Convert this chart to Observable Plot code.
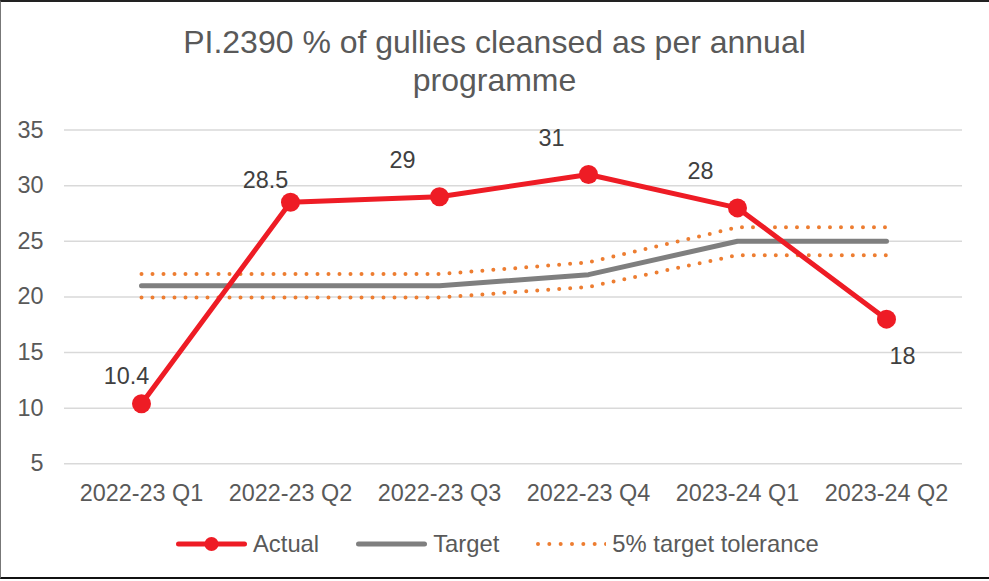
<!DOCTYPE html>
<html>
<head>
<meta charset="utf-8">
<script src="https://cdn.jsdelivr.net/npm/d3@7"></script>
<script src="https://cdn.jsdelivr.net/npm/@observablehq/plot@0.6"></script>
<style>
  html, body { margin: 0; padding: 0; background: #fff; }
  #wrap { position: relative; width: 989px; height: 581px; overflow: hidden; background: #fff;
          font-family: "Liberation Sans", Arial, sans-serif; }
  #frame { position: absolute; left: 0; top: 0; width: 989px; height: 579px; box-sizing: border-box;
           border-top: 2px solid #222; border-left: 1px solid #777; border-bottom: 2px solid #111;
           pointer-events: none; }
  #title { position: absolute; left: 0; top: 23px; width: 989px; text-align: center;
           font-size: 32px; line-height: 38px; color: #595959; }
  #chart { position: absolute; left: 0; top: 100px; }
  #legend { position: absolute; left: 176px; top: 528px; height: 32px; display: flex; align-items: center;
            font-size: 23.8px; color: #595959; }
  #legend .item { display: flex; align-items: center; }
  #legend svg { display: block; }
</style>
</head>
<body>
<div id="wrap">
  <div id="title">PI.2390 % of gullies cleansed as per annual<br>programme</div>
  <div id="chart"></div>
  <div id="legend"></div>
  <div id="frame"></div>
</div>
<script>
const categories = ["2022-23 Q1", "2022-23 Q2", "2022-23 Q3", "2022-23 Q4", "2023-24 Q1", "2023-24 Q2"];
const actual = [10.4, 28.5, 29, 31, 28, 18];
const target = [21, 21, 21, 22, 25, 25];
const toleranceUpper = [22.05, 22.05, 22.05, 23.1, 26.25, 26.25];
const toleranceLower = [19.95, 19.95, 19.95, 20.9, 23.75, 23.75];
const yTicks = [5, 10, 15, 20, 25, 30, 35];
const seriesNames = ["Actual", "Target", "5% target tolerance"];

const rows = categories.map((c, i) => ({
  cat: c, actual: actual[i], target: target[i], upper: toleranceUpper[i], lower: toleranceLower[i]
}));

const RED = "#EE1C25", GRAY = "#7F7F7F", ORANGE = "#ED7D31";
const FS = 23.4;

const chart = Plot.plot({
  width: 989,
  height: 420,
  marginTop: 29.5,
  marginBottom: 56.7,
  marginLeft: 64,
  marginRight: 27,
  style: { fontFamily: "'Liberation Sans', Arial, sans-serif", fontSize: FS + "px", background: "transparent", overflow: "visible" },
  x: { type: "point", domain: categories, padding: 0.5, label: null },
  y: { domain: [5, 35], label: null },
  marks: [
    Plot.gridY(yTicks, { stroke: "#d9d9d9", strokeOpacity: 1, strokeWidth: 1.5 }),
    Plot.axisX({ tickSize: 0, tickPadding: 21, fontSize: FS, fill: "#595959", label: null }),
    Plot.axisY(yTicks, { tickSize: 0, tickPadding: 21, fontSize: FS, fill: "#595959", label: null }),
    Plot.line(rows, { x: "cat", y: "upper", stroke: ORANGE, strokeWidth: 4, strokeDasharray: "0 11", strokeLinecap: "round" }),
    Plot.line(rows, { x: "cat", y: "lower", stroke: ORANGE, strokeWidth: 4, strokeDasharray: "0 11", strokeLinecap: "round" }),
    Plot.line(rows, { x: "cat", y: "target", stroke: GRAY, strokeWidth: 5, strokeLinecap: "round" }),
    Plot.line(rows, { x: "cat", y: "actual", stroke: RED, strokeWidth: 5, strokeLinecap: "round" }),
    Plot.dot(rows, { x: "cat", y: "actual", r: 9.5, fill: RED, stroke: null }),
    Plot.text([rows[0]], { x: "cat", y: "actual", text: d => String(d.actual), dx: -15, dy: -27, fontSize: FS, fill: "#404040" }),
    Plot.text([rows[1]], { x: "cat", y: "actual", text: d => String(d.actual), dx: -25, dy: -22, fontSize: FS, fill: "#404040" }),
    Plot.text(rows.slice(2, 5), { x: "cat", y: "actual", text: d => String(d.actual), dx: -37, dy: -36, fontSize: FS, fill: "#404040" }),
    Plot.text([rows[5]], { x: "cat", y: "actual", text: d => String(d.actual), dx: 16, dy: 37, fontSize: FS, fill: "#404040" })
  ]
});
document.getElementById("chart").appendChild(chart);

// Legend
const legend = d3.select("#legend");
function addItem(name, kind, gapAfter) {
  const it = legend.append("div").attr("class", "item").style("margin-right", gapAfter + "px");
  const s = it.append("svg").attr("width", 71).attr("height", 24).style("margin-right", "6px");
  if (kind === "actual") {
    s.append("line").attr("x1", 2.5).attr("x2", 68.5).attr("y1", 12).attr("y2", 12)
      .attr("stroke", RED).attr("stroke-width", 5).attr("stroke-linecap", "round");
    s.append("circle").attr("cx", 35.5).attr("cy", 12).attr("r", 7).attr("fill", RED);
  } else if (kind === "target") {
    s.append("line").attr("x1", 2.5).attr("x2", 68.5).attr("y1", 12).attr("y2", 12)
      .attr("stroke", GRAY).attr("stroke-width", 5).attr("stroke-linecap", "round");
  } else {
    s.append("line").attr("x1", 3).attr("x2", 71).attr("y1", 12).attr("y2", 12)
      .attr("stroke", ORANGE).attr("stroke-width", 4).attr("stroke-dasharray", "0 11.333")
      .attr("stroke-linecap", "round");
  }
  it.append("span").text(name);
}
addItem(seriesNames[0], "actual", 37);
addItem(seriesNames[1], "target", 36);
addItem(seriesNames[2], "tol", 0);
</script>
</body>
</html>
